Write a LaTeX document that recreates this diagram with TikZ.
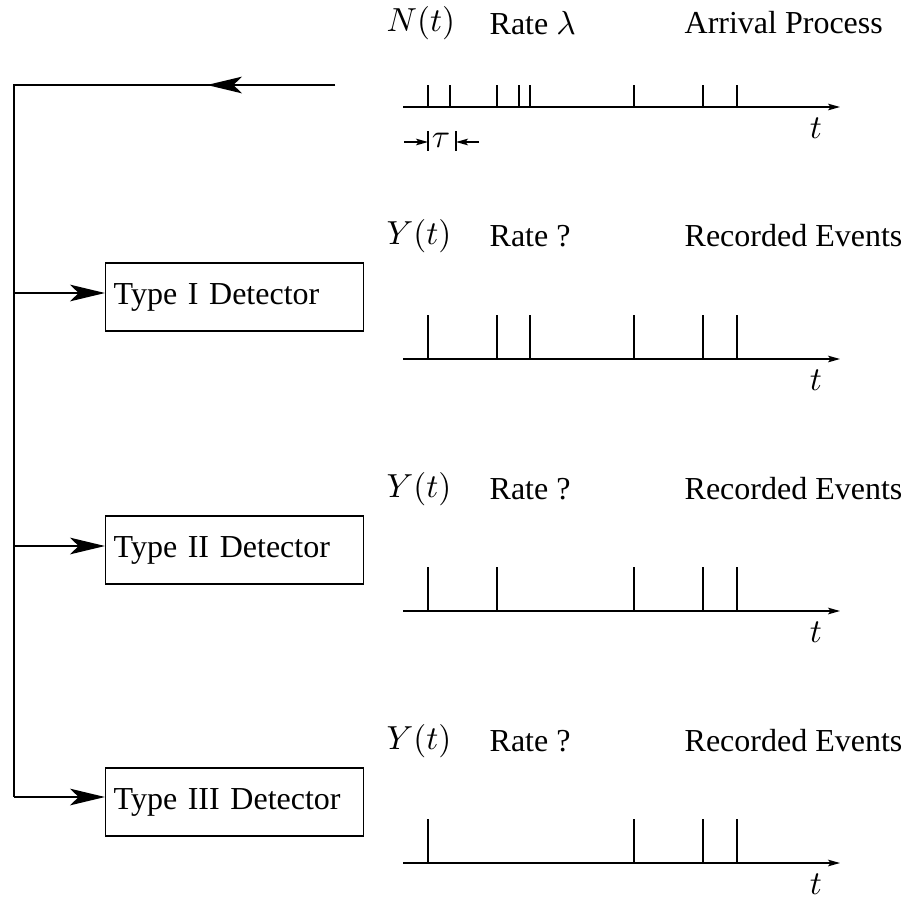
\documentclass[tikz,border=0pt]{standalone}
\usepackage{fontspec}
\setmainfont{Liberation Serif}
\usetikzlibrary{arrows.meta,positioning}

\tikzset{
  feed/.style={line width=0.6pt},
  bigtip/.style={feed,-{Stealth[length=10.5pt,width=5pt,inset=2.6pt]}},
  axis/.style={line width=0.4pt,-{Stealth[length=3.6pt,width=2pt,inset=0.8pt]}},
  tick/.style={line width=0.4pt},
  detector/.style={draw,line width=0.4pt,minimum width=77.4pt,minimum height=20.4pt,
    text width=72.6pt,inner xsep=2.4pt,align=left,anchor=west},
  head/.style={anchor=west,inner sep=0pt}
}

\begin{document}
\begin{tikzpicture}[x=0.3pt,y=-0.3pt,font=\fontsize{9.6pt}{11.5pt}\selectfont]
  \useasboundingbox (0,0) rectangle (904,896);

  % headers
  \node[head] (n0) at (386,23) {$N(t)$};
  \node[head] (r0) at (489,23) {Rate $\lambda$};
  \node[head] (p0) at (684,23) {Arrival Process};
  \foreach \r/\yh in {1/236,2/489,3/741}{
    \node[head] (n\r) at (386,\yh) {$Y(t)$};
    \node[head] (r\r) at (489,\yh) {Rate ?};
    \node[head] (p\r) at (684,\yh) {Recorded Events};
  }

  % time axes with the events
  \foreach \r/\yb/\h/\ticks in {0/107/22/{428,450,497,519,530,634,703,737},
      1/359/44/{428,497,530,634,703,737},
      2/611/44/{428,497,634,703,737},
      3/863/44/{428,634,703,737}}{
    \coordinate (ax\r) at (403,\yb);
    \coordinate (ae\r) at (840,\yb);
    \draw[axis] (ax\r) -- (ae\r);
    \node (t\r) at (816,\yb+21) {$t$};
    \foreach \x in \ticks
      \draw[tick] (\x,\yb) -- (\x,\yb-\h);
  }

  % dead time
  \coordinate (ta) at (428,142);
  \coordinate (tb) at (456,142);
  \draw[tick] (428,131) -- (428,151);
  \draw[tick] (456,131) -- (456,151);
  \draw[axis] (404,142) -- (ta);
  \draw[axis] (479,142) -- (tb);
  \node (tau) at (441,140) {$\tau$};

  % detectors
  \node[detector] (d1) at (105,297) {Type I Detector};
  \node[detector] (d2) at (105,550) {Type II Detector};
  \node[detector] (d3) at (105,802) {Type III Detector};

  % feed line
  \coordinate (src) at (335,85);
  \coordinate (mid) at (207,85);
  \coordinate (top) at (14,85);
  \coordinate (bot) at (14,797);
  \draw[feed] (src) -- (top) -- (bot);
  \draw[bigtip] (src) -- (mid);
  \foreach \k/\yk in {1/293,2/546,3/797}
    \draw[bigtip] (14,\yk) -- (d\k.west |- 0,\yk);
\end{tikzpicture}
\end{document}
